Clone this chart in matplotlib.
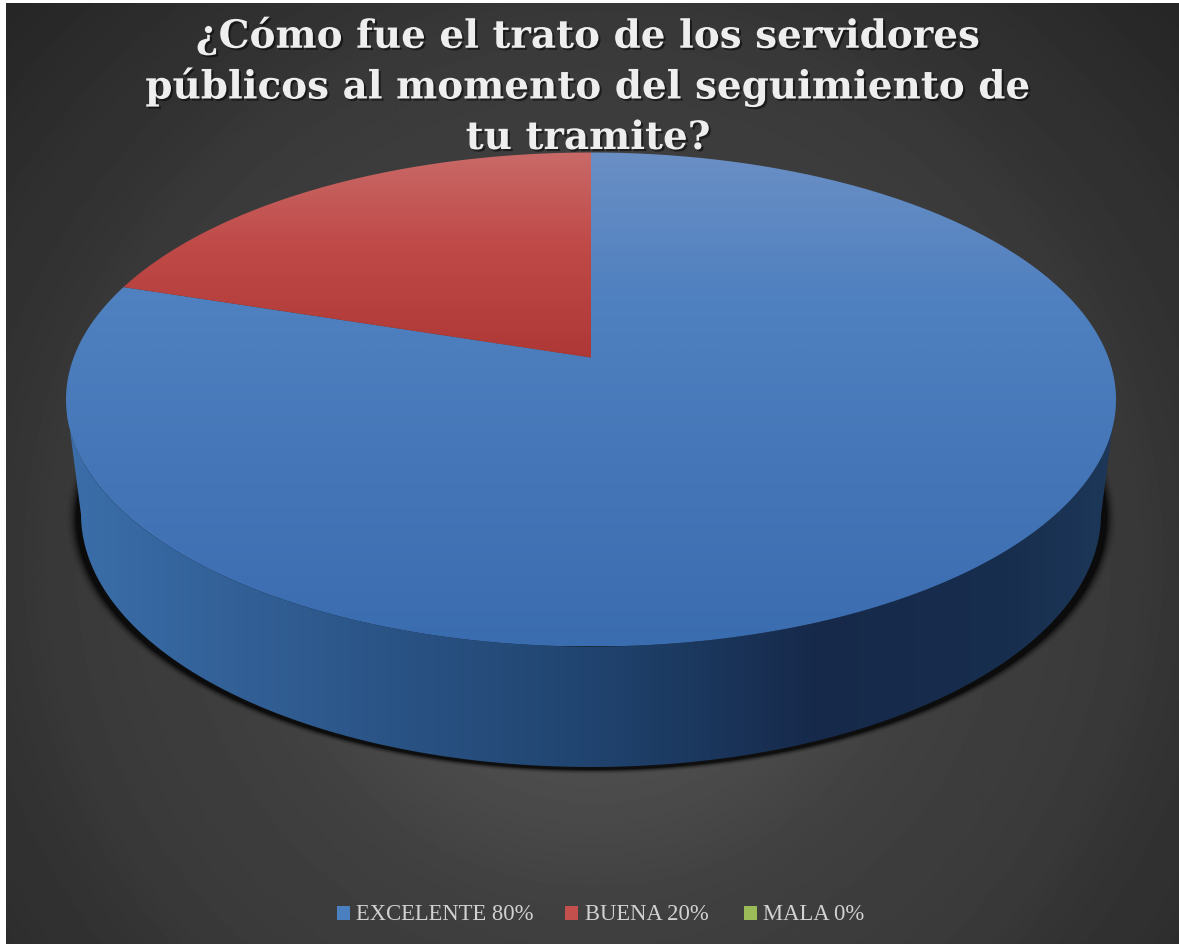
import numpy as np
import matplotlib
matplotlib.use("Agg")
import matplotlib.pyplot as plt
import matplotlib.patheffects as pe
from matplotlib.colors import LinearSegmentedColormap
from matplotlib.patches import Polygon, Rectangle

title_lines = ["¿Cómo fue el trato de los servidores",
               "públicos al momento del seguimiento de",
               "tu tramite?"]
categories = ["EXCELENTE", "BUENA", "MALA"]
values = [80, 20, 0]

# face gradient stops (top, upper middle, bottom) for each slice, legend colours
face_stops = [[(0, "#6a8fc5"), (0.3, "#4f80bf"), (1, "#3a6cb0")],
              [(0, "#c96a68"), (0.45, "#bf4a48"), (1, "#ae3835")],
              [(0, "#b5cf7a"), (0.45, "#9bbb59"), (1, "#8aad3f")]]
legend_colors = ["#4a7fc0", "#c4504d", "#9bbb59"]
legend_box_x = [337, 565, 744]
legend_text_x = [356, 585, 763]

W, H = 1179, 945
CX, CY, RX, RY = 591, 400.5, 525, 247    # top rim ellipse
BCY, BRX, BRY = 515, 510, 253            # bottom rim ellipse
TILT = 0.17                              # moves the pie centre up (perspective)

fig = plt.figure(figsize=(W / 100, H / 100), dpi=100, facecolor="white")
ax = fig.add_axes([0, 0, 1, 1])
ax.axis("off")


def project_uv(u, v):
    # circle -> tilted disc, returns unit coordinates with y up
    d = 1 + TILT * v
    return u * np.sqrt(1 - TILT ** 2) / d, (v + TILT) / d


def gradient_fill(patch, stops, horizontal=False, extent=(0, W, H, 0)):
    cmap = LinearSegmentedColormap.from_list("g", stops)
    ax.add_patch(patch)
    patch.set_facecolor("none")
    patch.set_edgecolor("none")
    g = np.linspace(0, 1, 512)
    g = g[None, :] if horizontal else g[:, None]
    im = ax.imshow(g, cmap=cmap, extent=extent, aspect="auto", zorder=patch.get_zorder(),
                   interpolation="bilinear", vmin=0, vmax=1)
    im.set_clip_path(patch)


# background
yy, xx = np.mgrid[0:H, 0:W]
dist = np.hypot(xx - 590, yy - 560)
bg = np.interp(dist, [0, 240, 355, 540, 600, 664, 806, 900],
               [0x58, 0x4b, 0x40, 0x39, 0x33, 0x30, 0x26, 0x24]) / 255
ax.imshow(bg, cmap="gray", vmin=0, vmax=1, extent=(6, W, H, 4), aspect="auto", zorder=0)

# shadow under the pie
r = np.hypot((xx - CX) / 515, (yy - 518) / 252)
shadow = np.zeros((H, W, 4))
shadow[..., 3] = np.clip((1.022 - r) / 0.022, 0, 1) ** 2 * 0.8
shadow[yy < 420, 3] = 0
ax.imshow(shadow, extent=(0, W, H, 0), aspect="auto", zorder=1)

side_stops = [(0, "#3b6ea9"), (0.22, "#2f5b90"), (0.5, "#20446f"), (0.72, "#16294a"),
              (0.9, "#182e4e"), (1, "#1d3859")]

start = np.pi / 2
total = sum(values)
for i, val in enumerate(values):
    if val == 0:
        continue
    sweep = 2 * np.pi * val / total
    t = np.linspace(start, start - sweep, 600)
    px, py = project_uv(np.cos(t), np.sin(t))

    # side wall, only where the rim faces the viewer
    low = py <= 0
    if low.any():
        top = np.column_stack([CX + RX * px[low], CY - RY * py[low]])
        bot = np.column_stack([CX + BRX * px[low], BCY - BRY * py[low]])
        side = Polygon(np.vstack([top, bot[::-1]]), closed=True, zorder=2)
        gradient_fill(side, side_stops, horizontal=True, extent=(CX - BRX - 14, CX + BRX + 14, H, 0))

    # top face
    ax0, ay0 = project_uv(0.0, 0.0)
    pts = np.column_stack([CX + RX * px, CY - RY * py])
    apex = [CX + RX * ax0, CY - RY * ay0]
    outline = np.vstack([apex, pts])
    face = Polygon(outline, closed=True, zorder=3)
    gradient_fill(face, face_stops[i], extent=(0, W, outline[:, 1].max(), outline[:, 1].min()))
    start -= sweep

for line, y in zip(title_lines, [37, 88, 139]):
    ax.text(588, y, line, color="#eeeeee", fontsize=28, fontweight="bold", family="DejaVu Serif",
            ha="center", va="center", zorder=5,
            path_effects=[pe.withSimplePatchShadow(offset=(1.5, -1.5), shadow_rgbFace="black", alpha=0.5)])

# legend
for i, cat in enumerate(categories):
    ax.add_patch(Rectangle((legend_box_x[i], 907), 13, 14, facecolor=legend_colors[i], edgecolor="none", zorder=5))
    ax.text(legend_text_x[i], 914, f"{cat} {values[i]}%", color="#d2d2d2", fontsize=16.3,
            family="Liberation Serif", ha="left", va="center", zorder=5)

ax.set_xlim(0, W)
ax.set_ylim(H, 0)
fig.savefig("out.png", dpi=100, facecolor="white")
